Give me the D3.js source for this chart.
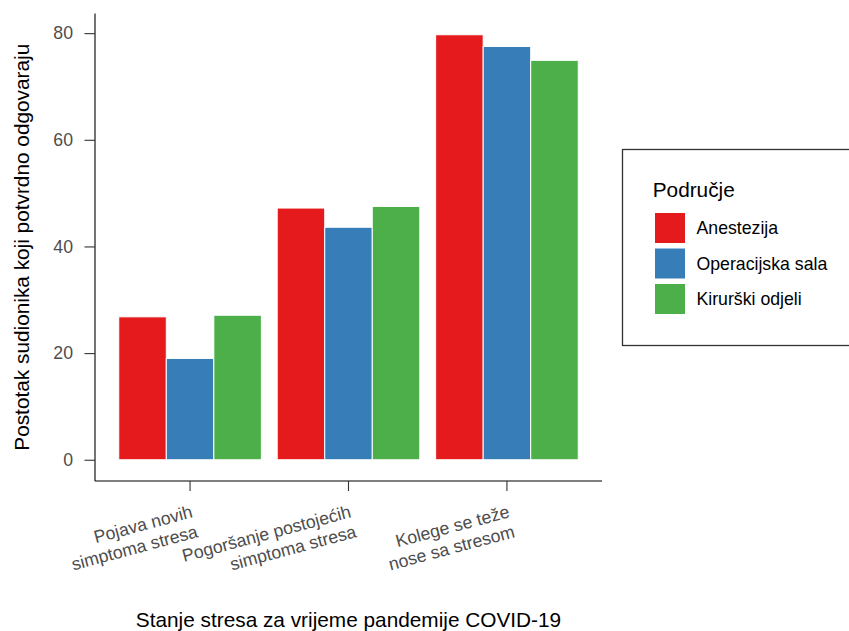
<!DOCTYPE html>
<html>
<head>
<meta charset="utf-8">
<script src="https://cdn.jsdelivr.net/npm/d3@7"></script>
<style>
  body { margin: 0; background: #fff; }
  svg { display: block; }
  text { font-family: "Liberation Sans", Arial, sans-serif; }
</style>
</head>
<body>
<svg id="chart" width="849" height="631"></svg>
<script>
// ---- data ----
const categories = [
  "Pojava novih\nsimptoma stresa",
  "Pogoršanje postojećih\nsimptoma stresa",
  "Kolege se teže\nnose sa stresom"
];
const seriesNames = ["Anestezija", "Operacijska sala", "Kirurški odjeli"];
const anestezija = [26.8, 47.2, 79.7];
const operacijskaSala = [19.0, 43.6, 77.5];
const kirurskiOdjeli = [27.1, 47.5, 74.9];
const yTicks = [0, 20, 40, 60, 80];
const colors = ["#E41A1C", "#377EB8", "#4DAF4A"];
const xTitle = "Stanje stresa za vrijeme pandemije COVID-19";
const yTitle = "Postotak sudionika koji potvrdno odgovaraju";
const legendTitle = "Područje";

const seriesValues = [anestezija, operacijskaSala, kirurskiOdjeli];
const rows = [];
categories.forEach((c, i) => seriesNames.forEach((s, j) => rows.push({cat: c, series: s, value: seriesValues[j][i]})));

// ---- layout ----
const svg = d3.select("#chart");
const pLeft = 95, pRight = 602, pTop = 13.5, pBottom = 481;
const tickFont = 17.7, titleFont = 20.8;

const x0 = d3.scaleBand().domain(categories).range([pLeft, pRight]).paddingInner(0).paddingOuter(0.1);
const step = x0.step();
const x1 = d3.scaleBand().domain(seriesNames).range([0, step * 0.9]).padding(0);
const ymax = d3.max(rows, d => d.value);
const y = d3.scaleLinear().domain([-0.05 * ymax, ymax * 1.05]).range([pBottom, pTop]);
const color = d3.scaleOrdinal().domain(seriesNames).range(colors);

// bars
svg.append("g").selectAll("rect").data(rows).join("rect")
  .attr("x", d => x0(d.cat) + step * 0.05 + x1(d.series))
  .attr("width", x1.bandwidth())
  .attr("y", d => y(d.value))
  .attr("height", d => y(0) - y(d.value))
  .attr("fill", d => color(d.series))
  .attr("stroke", "white")
  .attr("stroke-width", 1);

// y axis
const yAxis = svg.append("g").attr("transform", `translate(${pLeft},0)`)
  .call(d3.axisLeft(y).tickValues(yTicks).tickSize(10.5).tickPadding(11.5));
yAxis.select(".domain").attr("stroke", "#000").attr("stroke-width", 1.1).attr("d", `M0,${pTop}V${pBottom}`);
yAxis.selectAll(".tick line").attr("stroke", "#333").attr("stroke-width", 1.1);
yAxis.selectAll(".tick text").attr("fill", "#4D4D4D").style("font-size", tickFont + "px")
  .style("font-family", "'Liberation Sans', Arial, sans-serif");

// x axis
const xAxis = svg.append("g").attr("transform", `translate(0,${pBottom})`)
  .call(d3.axisBottom(x0).tickSize(10).tickFormat(""));
xAxis.select(".domain").attr("stroke", "#000").attr("stroke-width", 1.1).attr("d", `M${pLeft},0H${pRight}`);
xAxis.selectAll(".tick line").attr("stroke", "#333").attr("stroke-width", 1.1);
xAxis.selectAll(".tick").each(function(d) {
  const lines = d.split("\n");
  const t = d3.select(this).append("text")
    .attr("fill", "#4D4D4D")
    .attr("text-anchor", "end")
    .style("font-size", tickFont + "px")
    .style("font-family", "'Liberation Sans', Arial, sans-serif")
    .attr("transform", "translate(0,23) rotate(-15)");
  lines.forEach((ln, k) => {
    t.append("tspan").attr("x", 0).attr("y", 13.5 + k * 20.5).text(ln);
  });
});

// axis titles
svg.append("text").attr("x", (pLeft + pRight) / 2).attr("y", 626.5)
  .attr("text-anchor", "middle").style("font-size", titleFont + "px").attr("fill", "#000").text(xTitle);
svg.append("text").attr("transform", `translate(28.5,${(pTop + pBottom) / 2}) rotate(-90)`)
  .attr("text-anchor", "middle").style("font-size", titleFont + "px").attr("fill", "#000").text(yTitle);

// legend
const lg = svg.append("g");
lg.append("rect").attr("x", 622.5).attr("y", 149.5).attr("width", 240).attr("height", 196)
  .attr("fill", "white").attr("stroke", "#333").attr("stroke-width", 1.3);
lg.append("text").attr("x", 652.7).attr("y", 196.5).style("font-size", titleFont + "px").attr("fill", "#000").text(legendTitle);
const items = lg.selectAll("g.item").data(seriesNames).join("g").attr("class", "item")
  .attr("transform", (d, i) => `translate(654.5,${212.5 + i * 35.5})`);
items.append("rect").attr("width", 31).attr("height", 31)
  .attr("fill", d => color(d)).attr("stroke", "white").attr("stroke-width", 1);
items.append("text").attr("x", 42).attr("y", 15.5).attr("dy", "0.35em")
  .style("font-size", tickFont + "px").attr("fill", "#000").text(d => d);
</script>
</body>
</html>
